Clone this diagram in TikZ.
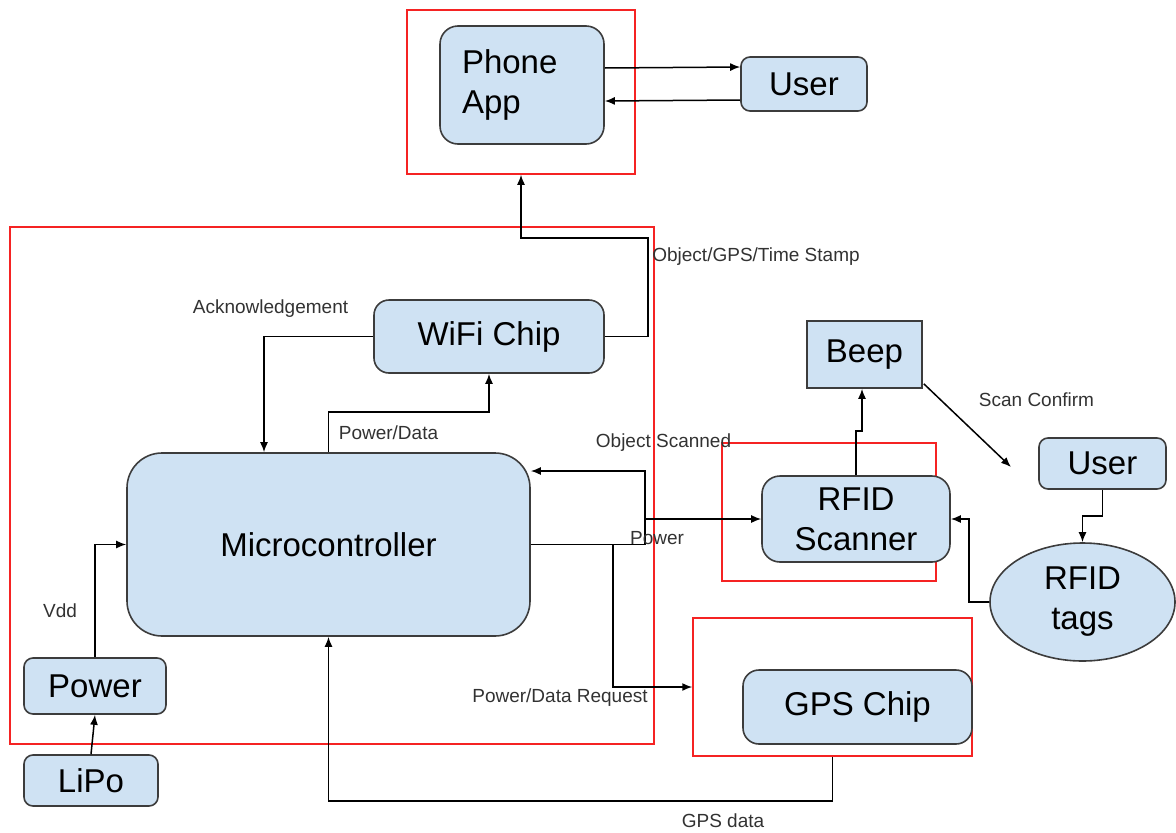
\documentclass[tikz,border=0pt]{standalone}
\usepackage{fontspec}
\setmainfont{Liberation Sans}
\usepackage{tikz}
\usetikzlibrary{arrows.meta, shapes.geometric}
\definecolor{boxblue}{RGB}{207,226,243}
\definecolor{boxline}{RGB}{60,60,60}
\definecolor{framered}{RGB}{245,35,35}
\definecolor{labelgray}{RGB}{50,50,50}

\begin{document}
\begin{tikzpicture}[x=1pt, y=-1pt, >={Latex[length=10pt,width=8pt]},
		block/.style={draw=boxline, line width=1.6pt, fill=boxblue, inner sep=0pt, rounded corners=12pt,
			font=\fontsize{33}{40}\selectfont},
		frame/.style={draw=framered, line width=1.5pt, inner sep=0pt},
		conn/.style={->, line width=1.5pt},
		lbl/.style={text=labelgray, inner sep=0pt, font=\fontsize{19}{22}\selectfont}]
				\useasboundingbox (0,0) rectangle (1176,833);
				% Rahmen
				\node[frame, minimum width=228pt, minimum height=164pt] (phoneframe) at (521,92) {};
				\node[frame, minimum width=644pt, minimum height=517pt] (mainframe) at (332,485.5) {};
				\node[frame, minimum width=214pt, minimum height=138pt] (scanframe) at (829,512) {};
				\node[frame, minimum width=279pt, minimum height=138pt] (gpsframe) at (832.5,687) {};
				% Bausteine
				\node[block, minimum width=164pt, minimum height=118pt, rounded corners=18pt, text width=120pt, align=left] (phone) at (522,85) {Phone\\App};
				\node[block, minimum width=126pt, minimum height=54pt, rounded corners=9pt] (userA) at (804,84) {User};
				\node[block, minimum width=230pt, minimum height=73pt, rounded corners=15pt] (wifi) at (489,336.5) {WiFi Chip};
				\node[block, minimum width=403pt, minimum height=183pt, rounded corners=35pt] (micro) at (328.5,544.5) {Microcontroller};
				\node[block, minimum width=142pt, minimum height=56pt, rounded corners=9pt] (power) at (95,686) {Power};
				\node[block, minimum width=134pt, minimum height=51pt, rounded corners=9pt] (lipo) at (91,780.5) {LiPo};
				\node[block, minimum width=115pt, minimum height=67pt, rounded corners=0pt] (beep) at (864.5,354.5) {Beep};
				\node[block, minimum width=188pt, minimum height=86pt, rounded corners=18pt, align=center] (scanner) at (856,519) {RFID\\Scanner};
				\node[block, minimum width=127pt, minimum height=51pt, rounded corners=9pt] (userB) at (1102.5,463.5) {User};
				\node[block, ellipse, minimum width=185pt, minimum height=118pt, align=center] (tags) at (1082.5,602) {RFID\\tags};
				\node[block, minimum width=229pt, minimum height=74pt, rounded corners=16pt] (gps) at (857.5,707) {GPS Chip};
				% Hilfspunkte
				\coordinate (split) at (645,519);
				\coordinate (confirm) at (1011,467);
				% Verbindungen
				\draw[conn] ([yshift=17pt]phone.east) -- ([yshift=17pt]userA.west);
				\draw[conn] ([yshift=-16pt]userA.west) -- ([yshift=-16pt]phone.east);
				\draw[conn] (wifi.east) -| (648,238) -| (phoneframe.south);
				\draw[conn] (wifi.west) -| ([xshift=-64.5pt]micro.north);
				\draw[conn] (micro.north) -- ++(0,-40) -| (wifi.south);
				\draw[conn] (micro.east) -| (split) -- (scanner.west);
				\draw[conn] (split) |- ([yshift=73.5pt]micro.east);
				\draw[conn] (micro.east) -- ++(82,0) |- (gpsframe.west);
				\draw[conn] (scanner.north) -- ++(0,-44) -| ([xshift=-2.5pt]beep.south);
				\draw[conn] ([shift={(1pt,5pt)}]beep.south east) -- (confirm);
				\draw[conn] (userB.south) -- ++(0,26) -| (tags.north);
				\draw[conn] (tags.west) -- ++(-20,0) |- (scanner.east);
				\draw[conn] (power.north) |- (micro.west);
				\draw[conn] (lipo.north) -- (power.south);
				\draw[conn] (gpsframe.south) -- ++(0,44) -| (micro.south);
				% Beschriftung
				\node[lbl] (ack) at (270.5,309) {Acknowledgement};
				\node[lbl] (pwrdata) at (388.5,433) {Power/Data};
				\node[lbl] (stamp) at (756,257) {Object/GPS/Time Stamp};
				\node[lbl] (scanned) at (663.5,443) {Object Scanned};
				\node[lbl] (pwr) at (657,538) {Power};
				\node[lbl] (request) at (560,698) {Power/Data Request};
				\node[lbl] (vdd) at (60,611) {Vdd};
				\node[lbl] (scanconf) at (1036.5,400) {Scan Confirm};
				\node[lbl] (gpsdata) at (723,821) {GPS data};
		\end{tikzpicture}
\end{document}
